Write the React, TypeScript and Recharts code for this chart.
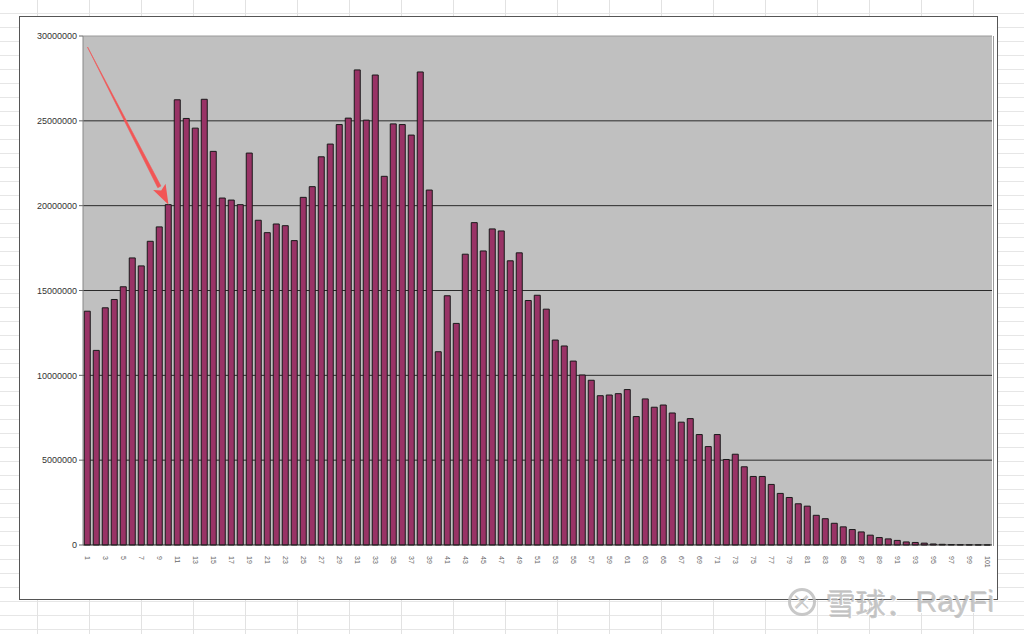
import React from 'react';
import { BarChart, Bar, XAxis, YAxis, CartesianGrid, ReferenceLine } from 'recharts';

const categories = Array.from({ length: 101 }, (_, i) => String(i + 1));

const values = [
  13780000, 11470000, 13980000, 14470000, 15220000, 16920000, 16450000, 17900000, 18750000, 20060000,
  26240000, 25140000, 24570000, 26270000, 23200000, 20450000, 20330000, 20060000, 23100000, 19140000,
  18410000, 18920000, 18820000, 17940000, 20490000, 21120000, 22880000, 23630000, 24780000, 25160000,
  28000000, 25040000, 27700000, 21730000, 24820000, 24780000, 24160000, 27880000, 20920000, 11390000,
  14690000, 13060000, 17140000, 19000000, 17330000, 18630000, 18510000, 16750000, 17220000, 14410000,
  14720000, 13900000, 12080000, 11730000, 10840000, 10020000, 9710000, 8800000, 8840000, 8920000,
  9160000, 7570000, 8610000, 8120000, 8250000, 7780000, 7240000, 7450000, 6510000, 5800000,
  6510000, 5040000, 5350000, 4610000, 4040000, 4040000, 3570000, 3040000, 2800000, 2430000,
  2290000, 1750000, 1550000, 1280000, 1070000, 910000, 770000, 580000, 440000, 360000,
  270000, 180000, 150000, 110000, 60000, 40000, 25000, 15000, 10000, 6000,
  3000,
];

const yTicks = [0, 5000000, 10000000, 15000000, 20000000, 25000000, 30000000];

// arrow annotation: from near the top of category 1 down to the top of category 10
const arrowFrom = { x: '1', y: 29350000 };
const arrowTo = { x: '10', y: 20060000 };

const data = categories.map((c, i) => ({ label: c, value: values[i] }));

const font = '"Liberation Sans", Arial, sans-serif';

function XTick(props: any) {
  const { x, y, payload } = props;
  return (
    <text
      x={x}
      y={y}
      dx={3}
      dy="0.35em"
      transform={`rotate(90 ${x} ${y})`}
      fontSize={7}
      fill="#666"
      fontFamily={font}
      textAnchor="start"
    >
      {payload.value}
    </text>
  );
}

function Arrow(props: any) {
  const { x1, y1, x2, y2 } = props;
  if ([x1, y1, x2, y2].some((v) => typeof v !== 'number')) return null;
  const dx = x2 - x1;
  const dy = y2 - y1;
  const len = Math.sqrt(dx * dx + dy * dy);
  const ux = dx / len;
  const uy = dy / len;
  const nx = -uy;
  const ny = ux;
  const headLen = 20;
  const headW = 7;
  const bx = x2 - ux * headLen;
  const by = y2 - uy * headLen;
  const shaft = `M${x1},${y1} L${bx + nx * 1.8},${by + ny * 1.8} L${bx - nx * 1.8},${by - ny * 1.8} Z`;
  const head = `M${x2},${y2} L${bx + nx * headW},${by + ny * headW} L${bx + ux * 4},${by + uy * 4} L${bx - nx * headW},${by - ny * headW} Z`;
  return (
    <g>
      <path d={shaft} fill="#F25555" stroke="#F25555" strokeWidth={0.6} />
      <path d={head} fill="#F25555" />
    </g>
  );
}

export default function App() {
  const sheetBg = {
    backgroundColor: '#ffffff',
    backgroundImage:
      'repeating-linear-gradient(to right, transparent 0px, transparent 37px, #e2e2e2 37px, #e2e2e2 38px, transparent 38px, transparent 52px),' +
      'repeating-linear-gradient(to bottom, transparent 0px, transparent 13px, #e6e6e6 13px, #e6e6e6 14px)',
  } as React.CSSProperties;

  return (
    <div style={{ position: 'absolute', left: 0, top: 0, width: 1024, height: 634, overflow: 'hidden', ...sheetBg }}>
      <div
        style={{
          position: 'absolute',
          left: 19,
          top: 16,
          width: 979,
          height: 584,
          background: '#fff',
          border: '1px solid #555',
          boxSizing: 'border-box',
        }}
      >
        <BarChart
          width={977}
          height={582}
          data={data}
          margin={{ top: 19, right: 5, bottom: 23, left: 0 }}
          barCategoryGap="14%"
        >
          <CartesianGrid
            vertical={false}
            fill="#C0C0C0"
            stroke="#2a2a2a"
            horizontalValues={[5000000, 10000000, 15000000, 20000000, 25000000]}
          />
          <XAxis
            dataKey="label"
            interval={1}
            tick={<XTick />}
            tickLine={false}
            axisLine={{ stroke: '#222' }}
            height={31}
          />
          <YAxis
            domain={[0, 30000000]}
            ticks={yTicks}
            width={63}
            tick={{ fontSize: 9, fill: '#333', fontFamily: font }}
            tickLine={{ stroke: '#666' }}
            tickSize={4}
            axisLine={{ stroke: '#888' }}
          />
          <ReferenceLine y={30000000} stroke="#9a9a9a" />
          <Bar dataKey="value" fill="#993366" stroke="#1a1a1a" strokeWidth={1} isAnimationActive={false} />
          <ReferenceLine segment={[arrowFrom, arrowTo]} shape={<Arrow />} ifOverflow="visible" />
        </BarChart>
        <div style={{ position: 'absolute', left: 973, top: 19, width: 1, height: 510, background: '#9a9a9a' }} />
      </div>
      <div
        style={{
          position: 'absolute',
          left: 788,
          top: 585,
          display: 'flex',
          alignItems: 'center',
          color: 'rgba(190,190,190,0.85)',
          fontFamily: '"Noto Sans CJK SC", sans-serif',
          fontSize: 30,
          lineHeight: '34px',
          textShadow: '1px 1px 0 #fff, -1px -1px 0 rgba(120,120,120,0.35)',
          whiteSpace: 'nowrap',
        }}
      >
        <span
          style={{
            display: 'inline-block',
            width: 28,
            height: 28,
            borderRadius: '50%',
            border: '3px solid rgba(190,190,190,0.85)',
            boxSizing: 'border-box',
            fontSize: 20,
            lineHeight: '22px',
            textAlign: 'center',
            marginRight: 10,
          }}
        >
          ×
        </span>
        <span>雪球：</span>
        <span style={{ fontFamily: '"Liberation Sans", Arial, sans-serif' }}>RayFi</span>
      </div>
    </div>
  );
}
